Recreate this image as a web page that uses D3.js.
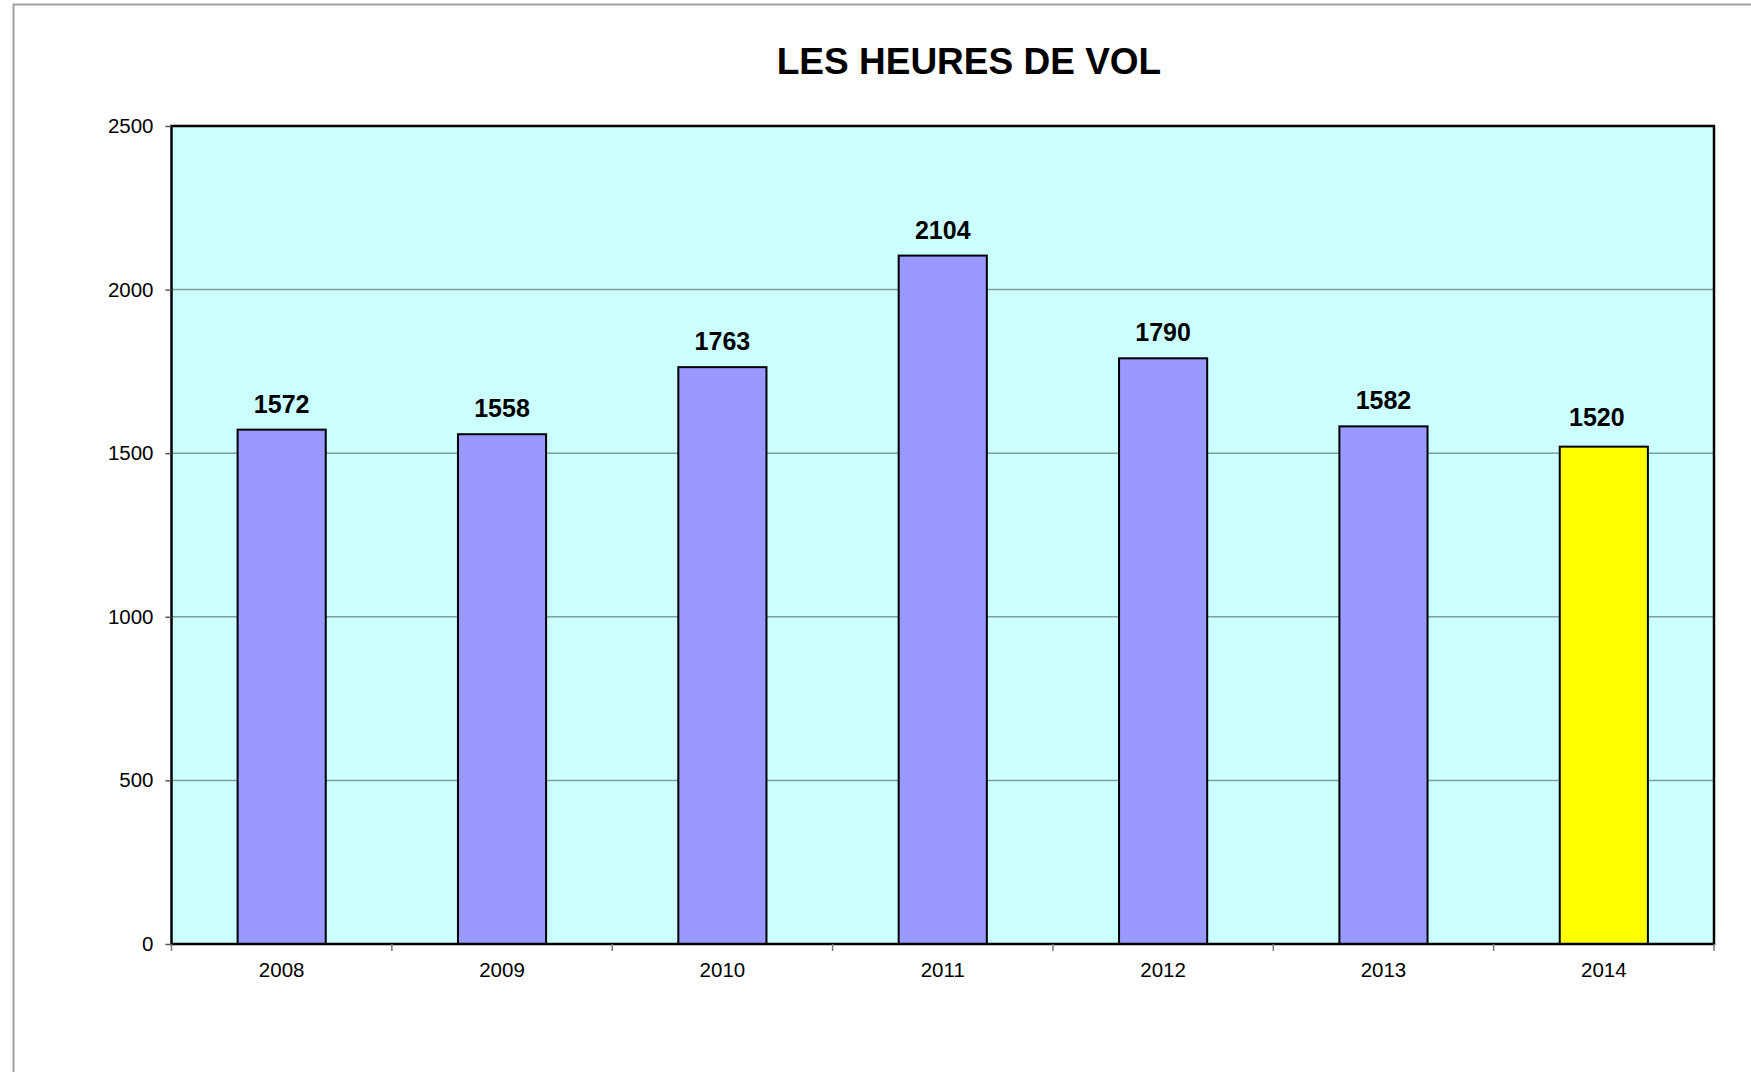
<!DOCTYPE html>
<html>
<head>
<meta charset="utf-8">
<script src="https://cdn.jsdelivr.net/npm/d3@7"></script>
<style>
  body { margin: 0; background: #fff; }
  text { font-family: "Liberation Sans", Arial, sans-serif; }
</style>
</head>
<body>
<div id="chart"></div>
<script>
// data
const years = ["2008", "2009", "2010", "2011", "2012", "2013", "2014"];
const hours = [1572, 1558, 1763, 2104, 1790, 1582, 1520];
const yTicks = [0, 500, 1000, 1500, 2000, 2500];
const highlightYear = "2014";

// set the dimensions and margins of the graph
const W = 1751, H = 1072;
const margin = { top: 126, right: 37, bottom: 128, left: 171.5 },
    width = W - margin.left - margin.right,
    height = H - margin.top - margin.bottom;

const root = d3.select("#chart")
    .append("svg")
    .attr("width", W)
    .attr("height", H);

// outer chart frame (only top and left edges visible)
root.append("path")
    .attr("d", `M13.5,${H} V4.5 H${W}`)
    .attr("fill", "none")
    .attr("stroke", "#a0a0a0")
    .attr("stroke-width", 2);

// title
root.append("text")
    .attr("x", 969)
    .attr("y", 74)
    .attr("text-anchor", "middle")
    .style("font-size", "37px")
    .style("font-weight", "bold")
    .text("LES HEURES DE VOL");

const svg = root.append("g")
    .attr("transform", `translate(${margin.left}, ${margin.top})`);

const x = d3.scaleBand()
    .domain(years)
    .range([0, width])
    .paddingInner(0.6)
    .paddingOuter(0.3);

const y = d3.scaleLinear()
    .domain([0, 2500])
    .range([height, 0]);

// plot background
svg.append("rect")
    .attr("width", width)
    .attr("height", height)
    .attr("fill", "#ccffff");

// grid lines
svg.append("g")
    .selectAll("line")
    .data(yTicks.filter(d => d > 0 && d < 2500))
    .join("line")
    .attr("x1", 0)
    .attr("x2", width)
    .attr("y1", d => y(d))
    .attr("y2", d => y(d))
    .attr("stroke", "#7f9f9f")
    .attr("stroke-width", 1.5);

// bars
svg.selectAll("rect.bar")
    .data(years)
    .join("rect")
    .attr("class", "bar")
    .attr("x", d => x(d))
    .attr("width", x.bandwidth())
    .attr("y", (d, i) => y(hours[i]))
    .attr("height", (d, i) => height - y(hours[i]))
    .attr("fill", d => d === highlightYear ? "#ffff00" : "#9999ff")
    .attr("stroke", "#000")
    .attr("stroke-width", 2);

// value labels (the highlighted one sits a little higher / left in the original)
svg.selectAll("text.val")
    .data(years)
    .join("text")
    .attr("class", "val")
    .attr("x", d => x(d) + x.bandwidth() / 2 - (d === highlightYear ? 7 : 0))
    .attr("y", (d, i) => y(hours[i]) - (d === highlightYear ? 21 : 17))
    .attr("text-anchor", "middle")
    .style("font-size", "25px")
    .style("font-weight", "bold")
    .text((d, i) => hours[i]);

// plot frame
svg.append("rect")
    .attr("width", width)
    .attr("height", height)
    .attr("fill", "none")
    .attr("stroke", "#000")
    .attr("stroke-width", 2.5);

// Y axis
const yAxis = svg.append("g")
    .call(d3.axisLeft(y).tickValues(yTicks).tickFormat(d3.format("d")).tickSize(6).tickPadding(12));
yAxis.select(".domain").remove();
yAxis.selectAll(".tick line").attr("stroke", "#555").attr("stroke-width", 1.5);
yAxis.selectAll(".tick text")
    .style("font-size", "20.5px")
    .attr("fill", "#000")
    .style("font-family", "'Liberation Sans', Arial, sans-serif");

// X axis: category labels with tick marks at the band edges
const edges = d3.range(years.length + 1).map(i => i * width / years.length);
svg.append("g")
    .selectAll("line")
    .data(edges)
    .join("line")
    .attr("x1", d => d)
    .attr("x2", d => d)
    .attr("y1", height)
    .attr("y2", height + 7)
    .attr("stroke", "#777")
    .attr("stroke-width", 1.5);

svg.append("g")
    .selectAll("text")
    .data(years)
    .join("text")
    .attr("x", d => x(d) + x.bandwidth() / 2)
    .attr("y", height + 33)
    .attr("text-anchor", "middle")
    .style("font-size", "20.5px")
    .text(d => d);
</script>
</body>
</html>
